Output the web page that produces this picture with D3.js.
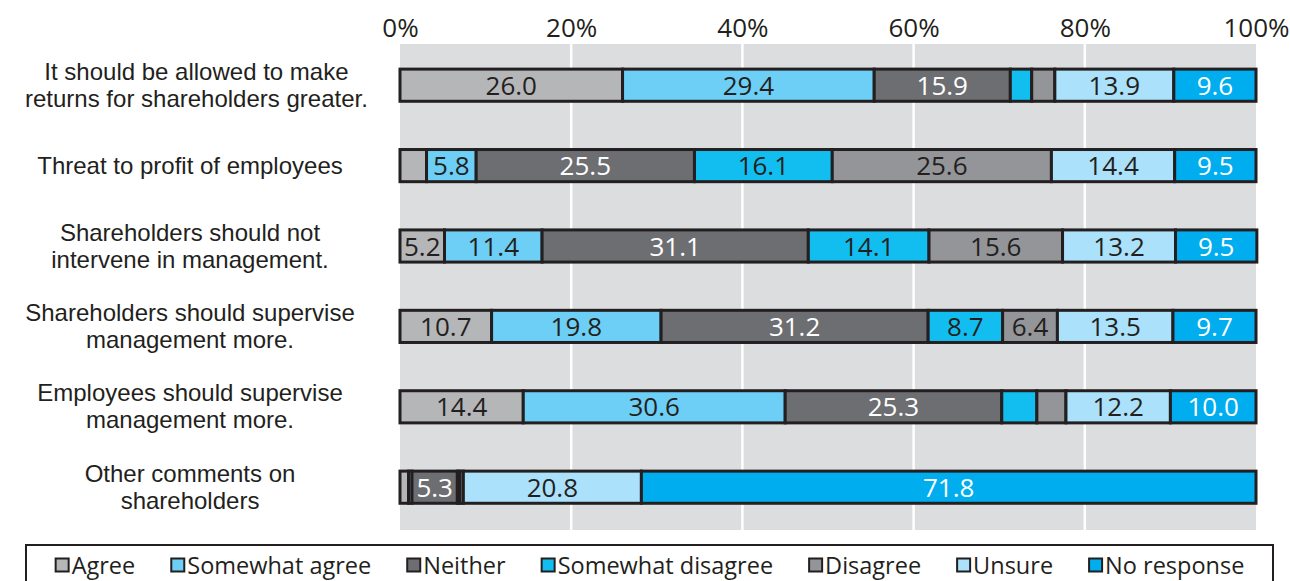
<!DOCTYPE html>
<html><head><meta charset="utf-8">
<script src="https://cdn.jsdelivr.net/npm/d3@7"></script>
<style>
html,body{margin:0;padding:0;background:#fff;}
svg{display:block;font-family:"Open Sans","Noto Sans",sans-serif;}
</style></head>
<body>
<svg id="chart" width="1290" height="581"></svg>
<script>
const categories = [
  ["It should be allowed to make", "returns for shareholders greater."],
  ["Threat to profit of employees"],
  ["Shareholders should not", "intervene in management."],
  ["Shareholders should supervise", "management more."],
  ["Employees should supervise", "management more."],
  ["Other comments on", "shareholders"]
];
const seriesNames = ["Agree","Somewhat agree","Neither","Somewhat disagree","Disagree","Unsure","No response"];
const seriesColors = ["#b5b6b8","#6dcff6","#6d6e71","#12bef0","#939598","#abe1fa","#00aeef"];
const labelColors = ["#231f20","#231f20","#ffffff","#231f20","#231f20","#231f20","#ffffff"];
const agree            = [26.0, 3.1, 5.2, 10.7, 14.4, 1.0];
const somewhatAgree    = [29.4, 5.8, 11.4, 19.8, 30.6, 0.4];
const neither          = [15.9, 25.5, 31.1, 31.2, 25.3, 5.3];
const somewhatDisagree = [2.5, 16.1, 14.1, 8.7, 4.1, 0.3];
const disagree         = [2.7, 25.6, 15.6, 6.4, 3.4, 0.4];
const unsure           = [13.9, 14.4, 13.2, 13.5, 12.2, 20.8];
const noResponse       = [9.6, 9.5, 9.5, 9.7, 10.0, 71.8];
const tickValues = [0, 20, 40, 60, 80, 100];
const tickLabels = ["0%","20%","40%","60%","80%","100%"];

const series = [agree, somewhatAgree, neither, somewhatDisagree, disagree, unsure, noResponse];
const rows = categories.map((c, i) => {
  const o = {idx: i};
  seriesNames.forEach((s, j) => o[s] = series[j][i]);
  return o;
});

const svg = d3.select("#chart");
const plot = {left: 400, right: 1256, top: 44, bottom: 530};
const x = d3.scaleLinear().domain([0, 100]).range([plot.left, plot.right]);
const y = d3.scaleBand().domain(d3.range(categories.length))
  .range([plot.top + 1, plot.top + 1 + 6 * 80.4]).paddingInner(0.6).paddingOuter(0.3);

// background
svg.append("rect").attr("x", plot.left).attr("y", plot.top)
  .attr("width", plot.right - plot.left).attr("height", plot.bottom - plot.top)
  .attr("fill", "#dcddde");
// gridlines
svg.append("g").selectAll("line").data(tickValues.slice(1, -1)).join("line")
  .attr("x1", d => x(d)).attr("x2", d => x(d))
  .attr("y1", plot.top).attr("y2", plot.bottom)
  .attr("stroke", "#ffffff").attr("stroke-width", 2.5);

// top axis
const axis = d3.axisTop(x).tickValues(tickValues).tickFormat((d, i) => tickLabels[i]).tickSize(0).tickPadding(0);
const ag = svg.append("g").attr("transform", `translate(0,37)`).call(axis);
ag.select(".domain").remove();
ag.selectAll("text").attr("font-size", 26).attr("fill", "#231f20")
  .attr("font-family", '"Open Sans","Noto Sans",sans-serif')
  .attr("dy", 0);

// stacked bars
const stack = d3.stack().keys(seriesNames)(rows);
const bh = y.bandwidth();
const layers = svg.append("g").selectAll("g").data(stack).join("g")
  .attr("fill", (d, i) => seriesColors[i]);
layers.selectAll("rect").data(d => d).join("rect")
  .attr("x", d => x(d[0])).attr("width", d => x(d[1]) - x(d[0]))
  .attr("y", d => y(d.data.idx)).attr("height", bh)
  .attr("stroke", "#231f20").attr("stroke-width", 3);

// labels
stack.forEach((layer, i) => {
  svg.append("g").selectAll("text").data(layer.filter(d => d[1] - d[0] >= 5)).join("text")
    .attr("x", d => (x(d[0]) + x(d[1])) / 2)
    .attr("y", d => y(d.data.idx) + bh / 2 + 9.5)
    .attr("text-anchor", "middle").attr("font-size", 26)
    .attr("fill", labelColors[i])
    .text(d => (d[1] - d[0]).toFixed(1));
});

// category labels: centred at 190 but kept inside the left margin
categories.forEach((lines, i) => {
  const cy = y(i) + bh / 2;
  const lh = 27;
  const t = svg.append("text").attr("text-anchor", "middle").attr("font-size", 24)
    .attr("font-family", '"Liberation Sans",Arial,sans-serif').attr("fill", "#231f20");
  const spans = lines.map((ln, k) => t.append("tspan")
      .attr("y", cy + 8 + (k - (lines.length - 1) / 2) * lh)
      .text(ln));
  const w = d3.max(spans, s => s.node().getComputedTextLength());
  const cx = Math.max(190, 25 + w / 2);
  spans.forEach(s => s.attr("x", cx));
});

// legend
svg.append("rect").attr("x", 26).attr("y", 545).attr("width", 1247).attr("height", 50)
  .attr("fill", "none").attr("stroke", "#231f20").attr("stroke-width", 2);
const lg = svg.append("g");
let cx = 0;
const gap = 35;
seriesNames.forEach((s, i) => {
  const g = lg.append("g");
  g.append("rect").attr("x", cx + 1).attr("y", -15.5).attr("width", 13).attr("height", 13)
    .attr("fill", seriesColors[i]).attr("stroke", "#231f20").attr("stroke-width", 2);
  const t = g.append("text").attr("x", cx + 17).attr("y", 0).attr("font-size", 23.5).attr("fill", "#231f20").text(s);
  const w = t.node().getComputedTextLength();
  cx += 17 + w + gap;
});
const total = cx - gap;
lg.attr("transform", `translate(${(26 + 1273) / 2 - total / 2},574)`);
</script>
</body></html>
